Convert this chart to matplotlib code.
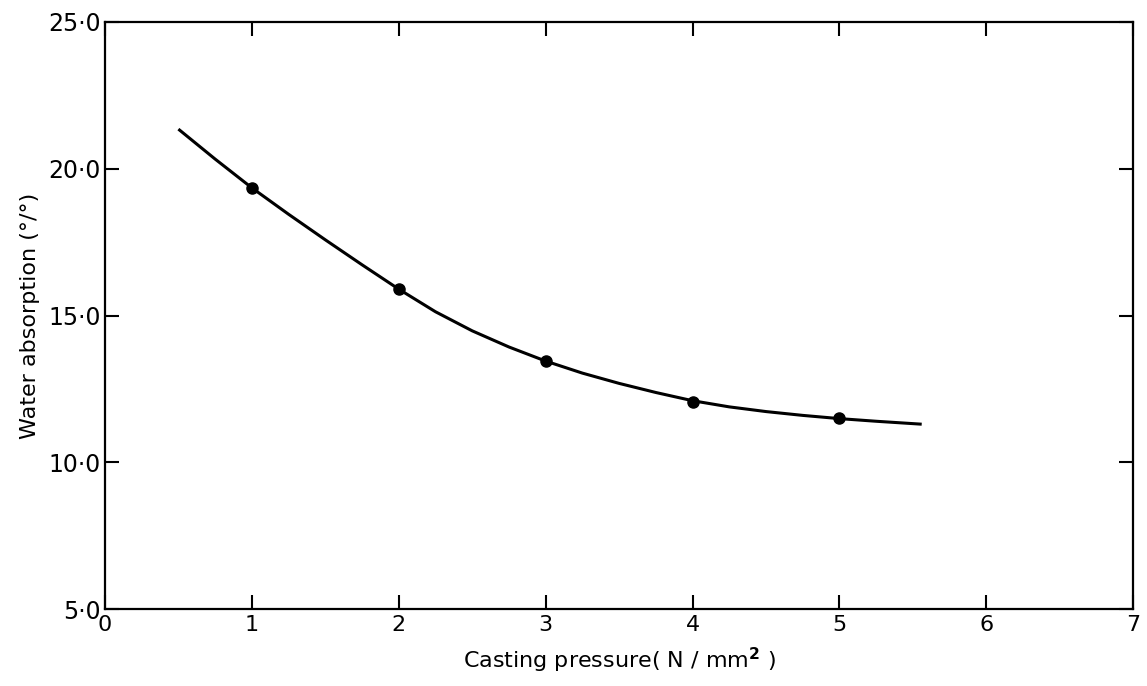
import matplotlib
matplotlib.use('Agg')

import matplotlib.pyplot as plt

# measured points
pressure = [1, 2, 3, 4, 5]
absorption = [19.35, 15.9, 13.45, 12.05, 11.52]

# fitted curve, read along its length
curve_x = [0.5, 0.75, 1.0, 1.25, 1.5, 1.75, 2.0, 2.25, 2.5, 2.75, 3.0,
           3.25, 3.5, 3.75, 4.0, 4.25, 4.5, 4.75, 5.0, 5.25, 5.56]
curve_y = [21.35, 20.33, 19.35, 18.45, 17.58, 16.73, 15.9, 15.13, 14.48, 13.93, 13.45,
           13.04, 12.69, 12.38, 12.1, 11.89, 11.73, 11.6, 11.49, 11.4, 11.3]

xticks = [0, 1, 2, 3, 4, 5, 6, 7]
yticks = [5, 10, 15, 20, 25]
ytick_labels = ['5·0', '10·0', '15·0', '20·0', '25·0']

fig = plt.figure(figsize=(11.47, 6.86), dpi=100)
ax = fig.add_axes([0.0915, 0.112, 0.8965, 0.856])

ax.plot(curve_x, curve_y, color='black', lw=2.2, solid_capstyle='butt',
        solid_joinstyle='round')
ax.plot(pressure, absorption, 'o', color='black', ms=8)

ax.set_xlim(0, 7)
ax.set_ylim(5, 25)
ax.set_xticks(xticks)
ax.set_yticks(yticks)
ax.set_yticklabels(ytick_labels)
ax.tick_params(direction='in', length=10, width=1.5, labelsize=16,
               top=True, right=True, pad=4, colors='black')
ax.tick_params(axis='y', labelsize=17, pad=3)
for s in ax.spines.values():
    s.set_linewidth(1.6)

ax.set_xlabel('Casting pressure( N / mm$^{\\mathbf{2}}$ )', fontsize=16, labelpad=8)
ax.set_ylabel('Water absorption (°/°)', fontsize=16, labelpad=6)

fig.savefig('out.png', dpi=100)
